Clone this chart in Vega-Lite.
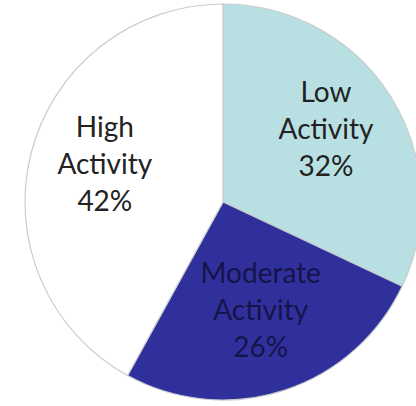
{
  "$schema": "https://vega.github.io/schema/vega-lite/v6.json",
  "width": 446,
  "height": 400,
  "padding": {"left": 0, "top": 1, "right": 0, "bottom": 0},
  "autosize": {"type": "pad"},
  "background": "white",
  "view": {"stroke": null},
  "data": {
    "values": [
      {"name": "Low", "pct": 32},
      {"name": "Moderate", "pct": 26},
      {"name": "High", "pct": 42}
    ]
  },
  "transform": [
    {"window": [{"op": "row_number", "as": "idx"}]},
    {"calculate": "datum.name + '\\nActivity\\n' + datum.pct + '%'", "as": "label"}
  ],
  "encoding": {
    "theta": {"field": "pct", "type": "quantitative", "stack": true},
    "order": {"field": "idx", "type": "quantitative"}
  },
  "layer": [
    {
      "mark": {"type": "arc", "outerRadius": 198, "stroke": "#c9cccc", "strokeWidth": 1.2},
      "encoding": {
        "color": {
          "field": "name",
          "type": "nominal",
          "scale": {"domain": ["Low", "Moderate", "High"], "range": ["#b8e0e3", "#30309c", "#ffffff"]},
          "legend": null
        }
      }
    },
    {
      "mark": {"type": "text", "radius": 122, "dy": -43, "font": "Lato", "fontSize": 28, "lineBreak": "\n", "lineHeight": 37, "baseline": "middle", "align": "center"},
      "encoding": {
        "text": {"field": "label", "type": "nominal"},
        "color": {
          "condition": {"test": "datum.name === 'Moderate'", "value": "#14144a"},
          "value": "#222222"
        }
      }
    }
  ]
}
